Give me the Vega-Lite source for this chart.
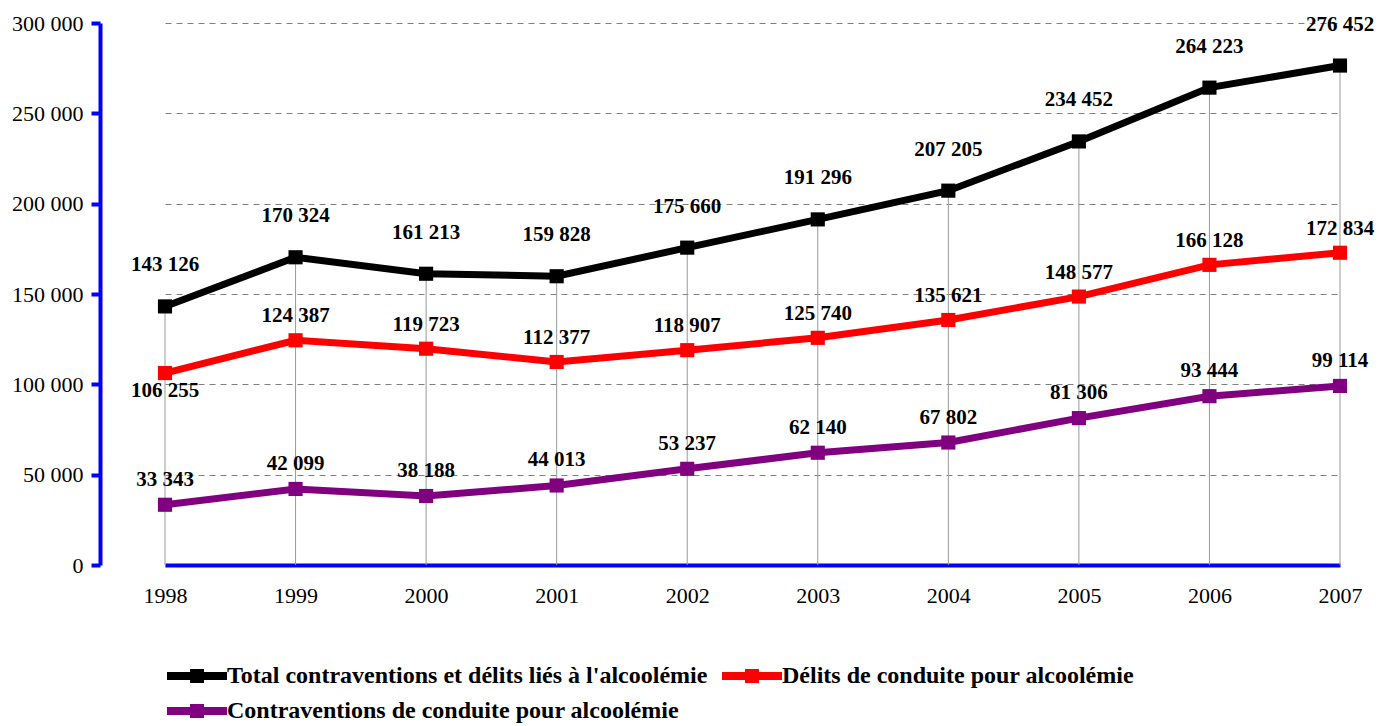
{
  "$schema": "https://vega.github.io/schema/vega-lite/v6.json",
  "width": 1299,
  "height": 542,
  "autosize": {"type": "none"},
  "padding": {"left": 100, "top": 23, "right": 0, "bottom": 161},
  "config": {
    "locale": {"number": {"decimal": ",", "thousands": " ", "grouping": [3], "currency": ["", " €"]}},
    "view": {"stroke": null},
    "font": "Liberation Serif"
  },
  "data": {
    "values": [
      {"year": "1998", "serie": "Total contraventions et délits liés à l'alcoolémie", "value": 143126},
      {"year": "1999", "serie": "Total contraventions et délits liés à l'alcoolémie", "value": 170324},
      {"year": "2000", "serie": "Total contraventions et délits liés à l'alcoolémie", "value": 161213},
      {"year": "2001", "serie": "Total contraventions et délits liés à l'alcoolémie", "value": 159828},
      {"year": "2002", "serie": "Total contraventions et délits liés à l'alcoolémie", "value": 175660},
      {"year": "2003", "serie": "Total contraventions et délits liés à l'alcoolémie", "value": 191296},
      {"year": "2004", "serie": "Total contraventions et délits liés à l'alcoolémie", "value": 207205},
      {"year": "2005", "serie": "Total contraventions et délits liés à l'alcoolémie", "value": 234452},
      {"year": "2006", "serie": "Total contraventions et délits liés à l'alcoolémie", "value": 264223},
      {"year": "2007", "serie": "Total contraventions et délits liés à l'alcoolémie", "value": 276452},
      {"year": "1998", "serie": "Délits de conduite pour alcoolémie", "value": 106255},
      {"year": "1999", "serie": "Délits de conduite pour alcoolémie", "value": 124387},
      {"year": "2000", "serie": "Délits de conduite pour alcoolémie", "value": 119723},
      {"year": "2001", "serie": "Délits de conduite pour alcoolémie", "value": 112377},
      {"year": "2002", "serie": "Délits de conduite pour alcoolémie", "value": 118907},
      {"year": "2003", "serie": "Délits de conduite pour alcoolémie", "value": 125740},
      {"year": "2004", "serie": "Délits de conduite pour alcoolémie", "value": 135621},
      {"year": "2005", "serie": "Délits de conduite pour alcoolémie", "value": 148577},
      {"year": "2006", "serie": "Délits de conduite pour alcoolémie", "value": 166128},
      {"year": "2007", "serie": "Délits de conduite pour alcoolémie", "value": 172834},
      {"year": "1998", "serie": "Contraventions de conduite pour alcoolémie", "value": 33343},
      {"year": "1999", "serie": "Contraventions de conduite pour alcoolémie", "value": 42099},
      {"year": "2000", "serie": "Contraventions de conduite pour alcoolémie", "value": 38188},
      {"year": "2001", "serie": "Contraventions de conduite pour alcoolémie", "value": 44013},
      {"year": "2002", "serie": "Contraventions de conduite pour alcoolémie", "value": 53237},
      {"year": "2003", "serie": "Contraventions de conduite pour alcoolémie", "value": 62140},
      {"year": "2004", "serie": "Contraventions de conduite pour alcoolémie", "value": 67802},
      {"year": "2005", "serie": "Contraventions de conduite pour alcoolémie", "value": 81306},
      {"year": "2006", "serie": "Contraventions de conduite pour alcoolémie", "value": 93444},
      {"year": "2007", "serie": "Contraventions de conduite pour alcoolémie", "value": 99114}
    ]
  },
  "encoding": {
    "x": {
      "field": "year", "type": "ordinal", "title": null,
      "scale": {"type": "point", "range": [65, 1240], "padding": 0},
      "axis": {
        "domainColor": "#0000FF", "domainWidth": 4, "ticks": false,
        "labelAngle": 0, "labelFont": "Liberation Serif", "labelFontSize": 22,
        "labelColor": "#000000", "labelPadding": 20, "grid": false
      }
    },
    "y": {
      "field": "value", "type": "quantitative", "title": null,
      "scale": {"domain": [0, 300000], "nice": false},
      "axis": {
        "values": [0, 50000, 100000, 150000, 200000, 250000, 300000],
        "format": ",d",
        "domainColor": "#0000FF", "domainWidth": 4,
        "tickColor": "#0000FF", "tickWidth": 4, "tickSize": 9,
        "labelFont": "Liberation Serif", "labelFontSize": 22, "labelColor": "#000000",
        "labelPadding": 8,
        "grid": true, "gridColor": "#808080", "gridDash": [6, 5], "gridWidth": 1
      }
    }
  },
  "layer": [
    {
      "transform": [{"filter": "datum.serie === \"Total contraventions et délits liés à l'alcoolémie\""}],
      "mark": {"type": "rule", "color": "#999999", "strokeWidth": 1},
      "encoding": {"y2": {"datum": 0}}
    },
    {
      "mark": {"type": "line", "strokeWidth": 7, "point": {"shape": "square", "size": 200, "filled": true}},
      "encoding": {
        "color": {
          "field": "serie", "type": "nominal",
          "scale": {
            "domain": ["Total contraventions et délits liés à l'alcoolémie", "Contraventions de conduite pour alcoolémie", "Délits de conduite pour alcoolémie"],
            "range": ["#000000", "#800080", "#FF0000"]
          },
          "legend": {
            "title": null, "orient": "none", "legendX": 65, "legendY": 641,
            "columns": 2, "columnPadding": 12, "rowPadding": 11,
            "symbolType": "M-1,-0.4H1.3V-0.7H2.7V-0.4H5V0.4H2.7V0.7H1.3V0.4H-1Z",
            "symbolSize": 400, "symbolStrokeWidth": 0, "labelOffset": 38,
            "labelFont": "Liberation Serif", "labelFontSize": 24, "labelFontWeight": "bold",
            "labelColor": "#000000", "labelLimit": 1000,
            "encode": {"symbols": {"update": {"fill": {"scale": "color", "field": "value"}, "fillOpacity": {"value": 1}}}}
          }
        }
      }
    },
    {
      "transform": [{"filter": "datum.serie === \"Total contraventions et délits liés à l'alcoolémie\""}],
      "mark": {"type": "text", "dy": -41, "fontSize": 21, "fontWeight": "bold", "font": "Liberation Serif", "color": "#000000"},
      "encoding": {"text": {"field": "value", "type": "quantitative", "format": ",d"}}
    },
    {
      "transform": [{"filter": "datum.serie === 'Délits de conduite pour alcoolémie' && datum.year !== '1998'"}],
      "mark": {"type": "text", "dy": -24, "fontSize": 21, "fontWeight": "bold", "font": "Liberation Serif", "color": "#000000"},
      "encoding": {"text": {"field": "value", "type": "quantitative", "format": ",d"}}
    },
    {
      "transform": [{"filter": "datum.serie === 'Délits de conduite pour alcoolémie' && datum.year === '1998'"}],
      "mark": {"type": "text", "dy": 18, "fontSize": 21, "fontWeight": "bold", "font": "Liberation Serif", "color": "#000000"},
      "encoding": {"text": {"field": "value", "type": "quantitative", "format": ",d"}}
    },
    {
      "transform": [{"filter": "datum.serie === 'Contraventions de conduite pour alcoolémie'"}],
      "mark": {"type": "text", "dy": -25, "fontSize": 21, "fontWeight": "bold", "font": "Liberation Serif", "color": "#000000"},
      "encoding": {"text": {"field": "value", "type": "quantitative", "format": ",d"}}
    }
  ]
}
